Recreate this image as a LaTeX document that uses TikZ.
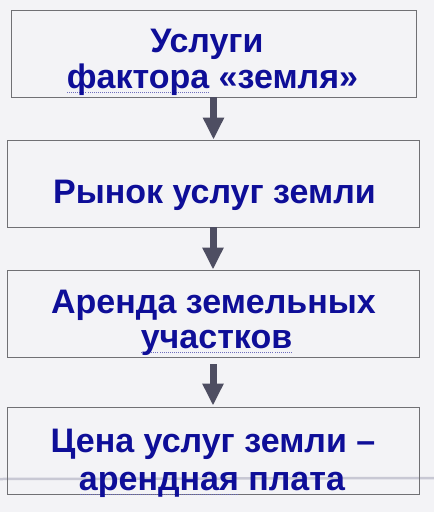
\documentclass[tikz,border=0pt]{standalone}
\usepackage{fontspec}
\setmainfont{Liberation Sans}
\usetikzlibrary{arrows.meta}
\definecolor{navytext}{RGB}{14,14,152}
\definecolor{arrowgray}{RGB}{78,78,98}
\definecolor{boxgray}{RGB}{112,112,116}
\definecolor{paper}{RGB}{243,243,246}
\definecolor{streak}{RGB}{200,200,212}
\definecolor{spellblue}{RGB}{110,110,190}
% dotted underline as in the slide
\newcommand\squig[1]{\leavevmode\setbox0\hbox{#1}%
  \rlap{\raisebox{-5pt}{\color{spellblue}\hbox to \wd0{\xleaders\hbox to 2pt{\hss\rule{1pt}{1pt}\hss}\hfill}}}\box0\relax}
\tikzset{
  box/.style={draw=boxgray, line width=0.9pt, minimum height=87pt, inner sep=0pt},
  lbl/.style={anchor=base, inner sep=0pt, text=navytext,
    font=\bfseries\fontsize{34}{38}\selectfont},
  arr/.style={draw=arrowgray, line width=7pt,
    -{Triangle[width=20pt, length=22pt]}}
}
\begin{document}
\begin{tikzpicture}[x=1pt, y=-1pt]
    % Background
    \fill[paper] (0, 0) rectangle (434, 512);
    \useasboundingbox (0, 0) rectangle (434, 512);
    \draw[streak, line width=2.5pt] (0, 479) -- (434, 478);
    
    % Boxes
    \node[box, minimum width=405pt] (b1) at (213.5, 53.5) {};
    \node[box, minimum width=412pt] (b2) at (213, 183.5) {};
    \node[box, minimum width=412pt] (b3) at (213, 313.5) {};
    \node[box, minimum width=412pt] (b4) at (213, 450.5) {};
    
    % Texts
    \node[lbl] (t1a) at (207, 52) {Услуги};
    \node[lbl] (t1b) at (212.5, 88) {\squig{фактора} «земля»};
    \node[lbl] (t2) at (214.5, 203) {Рынок услуг земли};
    \node[lbl] (t3a) at (213.5, 313) {Аренда земельных};
    \node[lbl] (t3b) at (216.5, 348) {\squig{участков}};
    \node[lbl] (t4a) at (213, 452) {Цена услуг земли –};
    \node[lbl] (t4b) at (212, 490) {\squig{арендная} плата};
    
    % Arrows
    \draw[arr] (b1.south) -- (b1.south |- b2.north);
    \draw[arr] (b2.south) -- (b3.north);
    \draw[arr, shorten <=7pt, shorten >=1pt] (b3.south) -- (b4.north);
\end{tikzpicture}
\end{document}
